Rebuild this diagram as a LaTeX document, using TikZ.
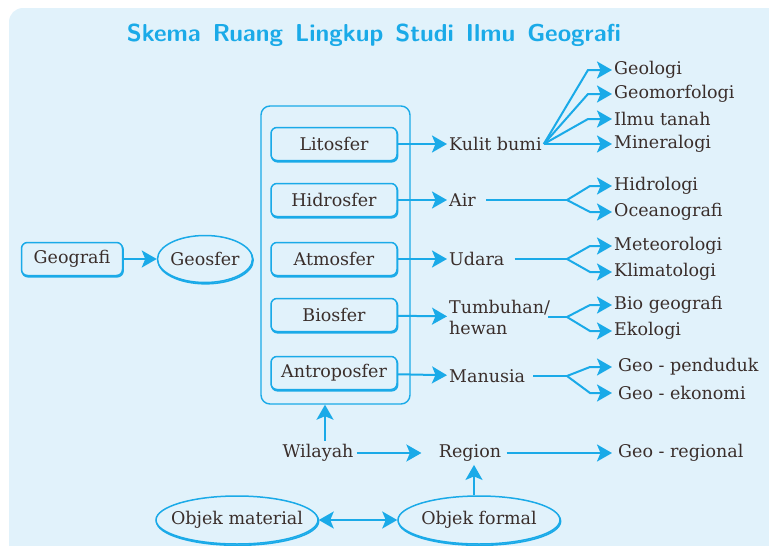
\documentclass[tikz,border=0pt]{standalone}
\usepackage{fontspec}
\setmainfont{DejaVu Serif}
\usepackage{tikz}
\usetikzlibrary{positioning, arrows.meta, shapes.geometric}
\definecolor{skyline}{HTML}{1AAAE8}
\definecolor{paleblue}{HTML}{E1F2FB}
\definecolor{inkbrown}{HTML}{3A2E2B}

\begin{document}
\begin{tikzpicture}[
    x=1pt, y=-1pt,
    >={Stealth[length=15pt, width=17pt, inset=3.5pt]},
    every node/.style={text=inkbrown, font=\fontsize{17.5}{21}\selectfont},
    shadowed/.style={
        preaction={draw=skyline, line width=1.6pt, transform canvas={shift={(0.6pt,-1.3pt)}}}
    },
    sphere/.style={
        rectangle,
        rounded corners=6pt,
        draw=skyline,
        line width=1.5pt,
        fill=paleblue,
        minimum width=126pt,
        minimum height=33pt,
        inner sep=2pt,
        shadowed
    },
    oval/.style={ellipse, draw=skyline, line width=1.5pt, fill=paleblue, inner sep=0pt, shadowed},
    term/.style={anchor=west, inner sep=2pt, align=left},
    arrow/.style={->, line width=2pt, draw=skyline},
    branch/.style={line width=2pt, draw=skyline}
]

\useasboundingbox (0,0) rectangle (769,546);
\fill[paleblue, rounded corners=14pt] (9,8) rectangle (800,580);

\node[font=\sffamily\bfseries\fontsize{24.5}{26}\selectfont, text=skyline] (title) at (374,35) {Skema\hspace{12pt}Ruang\hspace{12pt}Lingkup\hspace{12pt}Studi\hspace{12pt}Ilmu\hspace{12pt}Geografi};

\node[sphere, minimum width=101pt] (geografi) at (72,259) {Geografi};
\node[oval, minimum width=95pt, minimum height=47pt, inner xsep=-4pt] (geosfer) at (205,259) {Geosfer};
\draw[arrow] (geografi) -- (geosfer);

% the five spheres
\node[draw=skyline, line width=1.4pt, rounded corners=9pt, minimum width=149pt, minimum height=298pt] (lingkup) at (335.5,255) {};
\node[sphere] (lito) at (334,144) {Litosfer};
\node[sphere] (hidro) at (334,200) {Hidrosfer};
\node[sphere] (atmo) at (334,259) {Atmosfer};
\node[sphere] (bio) at (334,315) {Biosfer};
\node[sphere] (antro) at (334,373) {Antroposfer};

\node[term] (kulit) at (447,144) {Kulit bumi};
\node[term] (air) at (447,200) {Air};
\node[term] (udara) at (447,259) {Udara};
\node[term] (tumbuhan) at (447,317) {Tumbuhan/\\hewan};
\node[term] (manusia) at (447,376) {Manusia};

\draw[arrow] (lito) -- (kulit);
\draw[arrow] (hidro) -- (air);
\draw[arrow] (atmo) -- (udara);
\draw[arrow] (bio) -- (tumbuhan);
\draw[arrow] (antro) -- (manusia);

% branches of study
\node[term] (geologi) at (612,70) {Geologi};
\node[term] (geomorf) at (612,94) {Geomorfologi};
\node[term] (tanah) at (612,119) {Ilmu tanah};
\node[term] (mineral) at (612,144) {Mineralogi};
\node[term] (hidrologi) at (612,186) {Hidrologi};
\node[term] (oceano) at (612,212) {Oceanografi};
\node[term] (meteo) at (612,246) {Meteorologi};
\node[term] (klima) at (612,272) {Klimatologi};
\node[term] (biogeo) at (612,305) {Bio geografi};
\node[term] (ekologi) at (612,331) {Ekologi};
\node[term] (penduduk) at (616,367) {Geo - penduduk};
\node[term] (ekonomi) at (616,393) {Geo - ekonomi};

\draw[arrow] (kulit.east) -- ([xshift=-24pt]geologi.west) -- (geologi.west);
\draw[arrow] (kulit.east) -- ([xshift=-24pt]geomorf.west) -- (geomorf.west);
\draw[arrow] (kulit.east) -- ([xshift=-24pt]tanah.west) -- (tanah.west);
\draw[arrow] (kulit.east) -- (mineral.west);

\coordinate (airfork) at (567,200);
\coordinate (udarafork) at (567,259);
\coordinate (tumbuhanfork) at (567,317);
\coordinate (manusiafork) at (567,376);

\draw[branch, shorten <=8pt] (air.east) -- (airfork);
\draw[branch, shorten <=8pt] (udara.east) -- (udarafork);
\draw[branch, shorten <=-4pt] (tumbuhan.east) -- (tumbuhanfork);
\draw[branch, shorten <=6pt] (manusia.east) -- (manusiafork);

\draw[arrow] (airfork) -- ([xshift=-22pt]hidrologi.west) -- (hidrologi.west);
\draw[arrow] (airfork) -- ([xshift=-22pt]oceano.west) -- (oceano.west);
\draw[arrow] (udarafork) -- ([xshift=-22pt]meteo.west) -- (meteo.west);
\draw[arrow] (udarafork) -- ([xshift=-22pt]klima.west) -- (klima.west);
\draw[arrow] (tumbuhanfork) -- ([xshift=-22pt]biogeo.west) -- (biogeo.west);
\draw[arrow] (tumbuhanfork) -- ([xshift=-22pt]ekologi.west) -- (ekologi.west);
\draw[arrow] (manusiafork) -- ([xshift=-26pt]penduduk.west) -- ([xshift=-4pt]penduduk.west);
\draw[arrow] (manusiafork) -- ([xshift=-26pt]ekonomi.west) -- ([xshift=-4pt]ekonomi.west);

% wilayah and objects
\node (wilayah) at (318,453) {Wilayah};
\node (region) at (470,453) {Region};
\node[term] (georeg) at (616,453) {Geo - regional};
\node[oval, minimum width=162pt, minimum height=48pt, inner xsep=-13pt] (material) at (237,520) {Objek material};
\node[oval, minimum width=162pt, minimum height=48pt, inner xsep=-13pt] (formal) at (479,520) {Objek formal};

\draw[arrow] ([xshift=7pt]wilayah.north) -- ([xshift=7pt]wilayah.north |- lingkup.south);
\draw[arrow, shorten >=14pt] (wilayah) -- (region);
\draw[arrow, shorten <=2pt, shorten >=4pt] (region) -- (georeg);
\draw[arrow] ([xshift=-5pt]formal.north) -- ([xshift=-5pt]formal.north |- region.south);
\draw[arrow, <->] (material) -- (formal);

\end{tikzpicture}
\end{document}
